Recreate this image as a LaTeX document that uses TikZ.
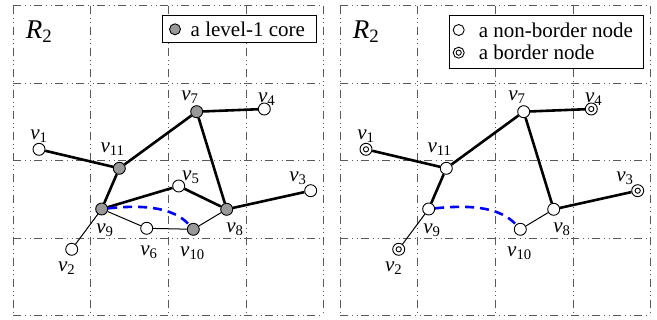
\documentclass[tikz,border=0pt]{standalone}
\usepackage{fontspec}
\setmainfont{Liberation Serif}
\newcommand\vlab[1]{{\itshape v}\textsubscript{#1}}
\begin{document}
\begin{tikzpicture}[x=1pt,y=-1pt,
  gridline/.style={draw=black!65, line width=1pt, dash pattern=on 8pt off 4pt on 1pt off 3.5pt on 1pt off 3.5pt},
  core/.style={circle, draw=black, line width=0.9pt, fill=black!40, minimum size=12pt, inner sep=0pt},
  plain/.style={circle, draw=black, line width=0.9pt, fill=white, minimum size=12pt, inner sep=0pt},
  border/.style={circle, draw=black, line width=0.9pt, fill=white, minimum size=12pt, inner sep=0pt,
     path picture={\draw[line width=0.9pt] (path picture bounding box.center) circle (2.6pt);}},
  heavy/.style={line width=2.6pt},
  light/.style={line width=1pt},
  shortcut/.style={blue, line width=2.6pt, dash pattern=on 9pt off 6pt},
  lab/.style={inner sep=0pt, font=\fontsize{21}{24}\selectfont},
  leg/.style={draw=black, line width=0.9pt, fill=white},
  legtext/.style={anchor=west, inner sep=0pt, font=\fontsize{21}{24}\selectfont},
  title/.style={inner sep=0pt, font=\fontsize{27}{32}\selectfont}]
\useasboundingbox (0,0) rectangle (657,320);

% ---------- left panel ----------
\begin{scope}[name prefix=L]
  \foreach \x in {13.3,90.7,168.3,246,323.3} \draw[gridline] (\x,5.7) -- (\x,316);
  \foreach \y in {5.7,83.3,161,238.5,316} \draw[gridline] (13.3,\y) -- (323.3,\y);
  \node[title] (R) at (39,31.7) {{\itshape R}\textsubscript{2}};
  \node[leg, minimum width=153.7pt, minimum height=26.7pt, anchor=north west] (legbox) at (162.3,15) {};
  \node[core, minimum size=11pt] (legc) at (175,29.3) {};
  \node[legtext] (legt) at (190.5,29.3) {a level-1 core};

  \node[plain] (v1) at (39,149.3) {};
  \node[core] (v11) at (119.3,168.3) {};
  \node[core] (v7) at (196.7,111.7) {};
  \node[plain] (v4) at (264.3,109) {};
  \node[plain] (v5) at (178.7,186) {};
  \node[plain] (v3) at (310.7,190.7) {};
  \node[core] (v9) at (101.7,209) {};
  \node[core] (v8) at (226.7,209.3) {};
  \node[plain] (v6) at (146.7,228.3) {};
  \node[core] (v10) at (193.3,229.3) {};
  \node[plain] (v2) at (71.7,249.3) {};

  \draw[heavy] (v1) -- (v11);
  \draw[heavy] (v11) -- (v7);
  \draw[heavy] (v7) -- (v4);
  \draw[heavy] (v7) -- (v8);
  \draw[heavy] (v11) -- (v9);
  \draw[heavy] (v9) -- (v5);
  \draw[heavy] (v5) -- (v8);
  \draw[heavy] (v8) -- (v3);
  \draw[light] (v9) -- (v2);
  \draw[light] (v9) -- (v6);
  \draw[light] (v6) -- (v10);
  \draw[light] (v10) -- (v8);
  \draw[shortcut] (v9) .. controls (140,205) and (172,206) .. (v10);

  \node[lab] (l1) at (39,136) {\vlab{1}};
  \node[lab] (l11) at (112.5,149.5) {\vlab{11}};
  \node[lab] (l7) at (190,97) {\vlab{7}};
  \node[lab] (l4) at (266.7,99) {\vlab{4}};
  \node[lab] (l5) at (190.8,177) {\vlab{5}};
  \node[lab] (l3) at (298,178) {\vlab{3}};
  \node[lab] (l9) at (105,230) {\vlab{9}};
  \node[lab] (l8) at (235,229) {\vlab{8}};
  \node[lab] (l6) at (149,252) {\vlab{6}};
  \node[lab] (l10) at (192.5,253) {\vlab{10}};
  \node[lab] (l2) at (66.7,268.5) {\vlab{2}};
\end{scope}

% ---------- right panel ----------
\begin{scope}[shift={(327,0)}, name prefix=R]
  \foreach \x in {13.3,90.7,168.3,246,323.3} \draw[gridline] (\x,5.7) -- (\x,316);
  \foreach \y in {5.7,83.3,161,238.5,316} \draw[gridline] (13.3,\y) -- (323.3,\y);
  \node[title] (R) at (39,31.7) {{\itshape R}\textsubscript{2}};
  \node[leg, minimum width=193.7pt, minimum height=53.3pt, anchor=north west] (legbox) at (122.3,15) {};
  \node[plain, minimum size=11pt] (legc1) at (131.7,30) {};
  \node[legtext] (legt1) at (151.7,30) {a non-border node};
  \node[border, minimum size=11pt] (legc2) at (131.7,52.7) {};
  \node[legtext] (legt2) at (151.7,52.7) {a border node};

  \node[border] (v1) at (39,149.3) {};
  \node[plain] (v11) at (119.3,168.3) {};
  \node[plain] (v7) at (196.7,111.7) {};
  \node[border] (v4) at (264.3,109) {};
  \node[border] (v3) at (310.7,190.7) {};
  \node[plain] (v9) at (101.7,209) {};
  \node[plain] (v8) at (226.7,209.3) {};
  \node[plain] (v10) at (193.3,229.3) {};
  \node[border] (v2) at (71.7,249.3) {};

  \draw[heavy] (v1) -- (v11);
  \draw[heavy] (v11) -- (v7);
  \draw[heavy] (v7) -- (v4);
  \draw[heavy] (v7) -- (v8);
  \draw[heavy] (v11) -- (v9);
  \draw[heavy] (v8) -- (v3);
  \draw[light] (v9) -- (v2);
  \draw[light] (v10) -- (v8);
  \draw[shortcut] (v9) .. controls (140,205) and (172,206) .. (v10);

  \node[lab] (l1) at (39,136) {\vlab{1}};
  \node[lab] (l11) at (112.5,149.5) {\vlab{11}};
  \node[lab] (l7) at (190,97) {\vlab{7}};
  \node[lab] (l4) at (266.7,99) {\vlab{4}};
  \node[lab] (l3) at (298,178) {\vlab{3}};
  \node[lab] (l9) at (105,230) {\vlab{9}};
  \node[lab] (l8) at (235,229) {\vlab{8}};
  \node[lab] (l10) at (192.5,253) {\vlab{10}};
  \node[lab] (l2) at (66.7,268.5) {\vlab{2}};
\end{scope}
\end{tikzpicture}
\end{document}
